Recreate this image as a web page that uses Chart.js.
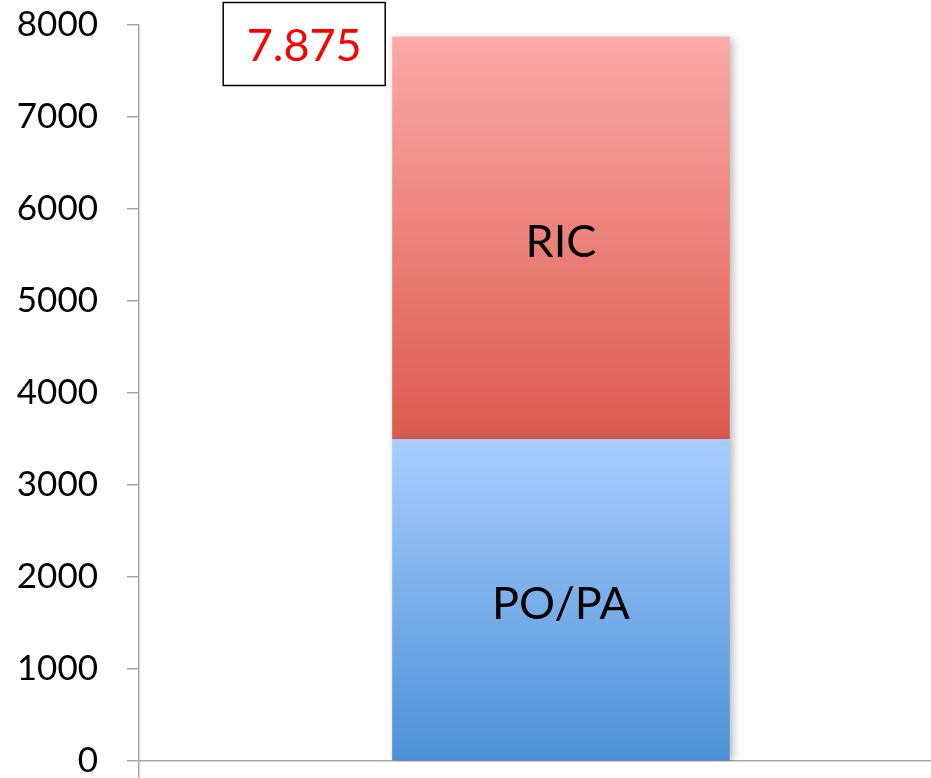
<!DOCTYPE html>
<html lang="it">
<head>
  <meta charset="UTF-8" />
  <title>PO/PA e RIC</title>
  <script src="https://cdn.jsdelivr.net/npm/chart.js"></script>
  <style>
    html, body {
      margin: 0;
      padding: 0;
      background: #ffffff;
      overflow: hidden;
    }
    #wrap {
      position: absolute;
      left: 0;
      top: 0;
      width: 983px;
      height: 800px;
    }
  </style>
</head>
<body>
  <div id="wrap">
    <canvas id="stackChart" width="983" height="800"></canvas>
  </div>

  <script>
    const categories = [''];
    const seriesNames = ['PO/PA', 'RIC'];
    const poPaValues = [3500];
    const ricValues = [4375];
    const yTicks = [0, 1000, 2000, 3000, 4000, 5000, 6000, 7000, 8000];

    const FONT = 'Lato, "Open Sans", sans-serif';
    const seriesValues = [poPaValues, ricValues];

    // italian thousands separator: 7875 -> "7.875"
    function formatTotal(n) {
      return String(n).replace(/\B(?=(\d{3})+(?!\d))/g, '.');
    }

    // vertical gradient over the stacked segment, from the y scale
    function segmentGradient(ctx, topColor, bottomColor) {
      const chart = ctx.chart;
      const y = chart.scales.y;
      if (!chart.chartArea || !y) return topColor;
      let start = 0;
      for (let i = 0; i < ctx.datasetIndex; i++) start += seriesValues[i][ctx.dataIndex];
      const end = start + seriesValues[ctx.datasetIndex][ctx.dataIndex];
      const y0 = y.getPixelForValue(end);
      const y1 = y.getPixelForValue(start);
      if (!isFinite(y0) || !isFinite(y1) || y1 - y0 < 1) return topColor;
      const g = chart.ctx.createLinearGradient(0, y0, 0, y1);
      g.addColorStop(0, topColor);
      g.addColorStop(1, bottomColor);
      return g;
    }

    const barShadow = {
      id: 'barShadow',
      beforeDatasetDraw(chart) {
        const c = chart.ctx;
        c.save();
        c.shadowColor = 'rgba(0,0,0,0.28)';
        c.shadowBlur = 8;
        c.shadowOffsetX = 3;
        c.shadowOffsetY = 2;
      },
      afterDatasetDraw(chart) {
        chart.ctx.restore();
      }
    };

    const barLabels = {
      id: 'barLabels',
      afterDatasetsDraw(chart) {
        const c = chart.ctx;
        c.save();
        c.font = '45px ' + FONT;
        c.fillStyle = '#000000';
        c.textAlign = 'center';
        c.textBaseline = 'middle';
        chart.data.datasets.forEach((ds, i) => {
          chart.getDatasetMeta(i).data.forEach(el => {
            c.fillText(ds.label, el.x, (el.y + el.base) / 2 + 5);
          });
        });

        // total box left of the bar top
        const meta = chart.getDatasetMeta(chart.data.datasets.length - 1);
        const el = meta.data[0];
        const total = poPaValues[0] + ricValues[0];
        const barLeft = el.x - el.width / 2;
        const yTop = chart.scales.y.getPixelForValue(total);
        const bx = barLeft - 169;
        const by = yTop - 34;
        const bw = 162;
        const bh = 83;
        c.fillStyle = '#ffffff';
        c.fillRect(bx, by, bw, bh);
        c.lineWidth = 1.5;
        c.strokeStyle = '#000000';
        c.strokeRect(bx, by, bw, bh);
        c.font = '45px ' + FONT;
        c.fillStyle = '#ff0000';
        c.fillText(formatTotal(total), bx + bw / 2, by + bh / 2 + 2);
        c.restore();
      }
    };

    new Chart(document.getElementById('stackChart'), {
      type: 'bar',
      data: {
        labels: categories,
        datasets: [
          {
            label: seriesNames[0],
            data: poPaValues,
            backgroundColor: ctx => segmentGradient(ctx, '#aacdfe', '#4b91d7'),
            borderWidth: 0
          },
          {
            label: seriesNames[1],
            data: ricValues,
            backgroundColor: ctx => segmentGradient(ctx, '#fbaaa7', '#dc5a4e'),
            borderWidth: 0
          }
        ]
      },
      options: {
        responsive: false,
        animation: false,
        layout: { padding: { top: 25, left: 0, right: 0, bottom: 0 } },
        plugins: {
          legend: { display: false },
          tooltip: { enabled: false }
        },
        datasets: {
          bar: { categoryPercentage: 1.0, barPercentage: 0.4 }
        },
        scales: {
          x: {
            stacked: true,
            afterFit: s => { s.height = 39; },
            border: { color: '#a6a6a6', width: 1.5 },
            grid: {
              offset: true,
              drawOnChartArea: false,
              tickLength: 30,
              color: '#a6a6a6',
              lineWidth: 1.5
            },
            ticks: { display: false }
          },
          y: {
            stacked: true,
            min: 0,
            max: 8000,
            afterFit: s => {
              s.width = 139;
              s.paddingTop = 0;
              s.paddingBottom = 0;
            },
            afterBuildTicks: s => { s.ticks = yTicks.map(v => ({ value: v })); },
            border: { color: '#a6a6a6', width: 1.5 },
            grid: {
              drawOnChartArea: false,
              tickLength: 12,
              color: '#a6a6a6',
              lineWidth: 1.5
            },
            ticks: {
              padding: 29,
              color: '#000000',
              font: { family: FONT, size: 35 },
              callback: v => String(v)
            }
          }
        }
      },
      plugins: [barShadow, barLabels]
    });
  </script>
</body>
</html>
